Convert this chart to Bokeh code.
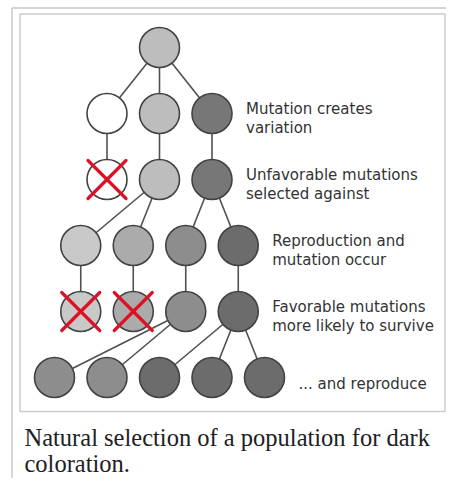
from bokeh.plotting import figure
from bokeh.models import Range1d
from bokeh.embed import file_html
from bokeh.resources import INLINE
from bokeh.core.properties import value

# ---- data ----
# each individual: generation (row) and column offset (in node spacings from the founder)
node_gen = [0, 1, 1, 1, 2, 2, 2, 3, 3, 3, 3, 4, 4, 4, 4, 5, 5, 5, 5, 5]
node_col = [0, -1, 0, 1, -1, 0, 1, -1.5, -0.5, 0.5, 1.5, -1.5, -0.5, 0.5, 1.5, -2, -1, 0, 1, 2]
# darkness level of coloration (0 = white ... 6 = darkest)
node_dark = [2, 0, 2, 5, 0, 2, 5, 1, 3, 4, 6, 1, 3, 4, 6, 4, 4, 6, 6, 6]
# individuals selected against
node_dies = [4, 11, 12]
# parent -> child links
edge_parent = [0, 0, 0, 1, 2, 3, 5, 5, 6, 6, 7, 8, 9, 10, 13, 13, 14, 14, 14]
edge_child = [1, 2, 3, 4, 5, 6, 7, 8, 9, 10, 11, 12, 13, 14, 15, 16, 17, 18, 19]
# stage captions
stage_gen = [1, 2, 3, 4, 5]
stage_line1 = ["Mutation creates", "Unfavorable mutations", "Reproduction and",
               "Favorable mutations", "... and reproduce"]
stage_line2 = ["variation", "selected against", "mutation occur",
               "more likely to survive", ""]
caption_lines = ["Natural selection of a population for dark", "coloration."]

# ---- styling / layout ----
palette = ["#ffffff", "#c9c9c9", "#bdbdbd", "#ababab", "#8d8d8d", "#777777", "#6c6c6c"]
OX, OY, DX, DY = 159.0, 47.0, 52.5, 66.0   # pixel position of the founder, node spacings
W, H = 446, 478


def ux(px):
    return (px - OX) / DX


def uy(py):
    return (py - OY) / DY


p = figure(width=W, height=H, output_backend="svg", toolbar_location=None,
           x_range=Range1d(ux(0), ux(W)), y_range=Range1d(uy(H), uy(0)),
           min_border=0)
p.axis.visible = False
p.grid.visible = False
p.outline_line_color = None
p.background_fill_color = "white"
p.border_fill_color = "white"

# frames (wiki thumbnail look)
p.line([ux(11.5), ux(11.5), ux(W + 5)], [uy(H + 5), uy(7.5), uy(7.5)],
       line_color="#c8c8c8", line_width=1.5)
p.line([ux(19.5), ux(19.5), ux(444.5), ux(444.5), ux(19.5)],
       [uy(411), uy(13.5), uy(13.5), uy(411), uy(411)],
       line_color="#cccccc", line_width=1.5)

# links
p.segment(x0=[node_col[i] for i in edge_parent], y0=[node_gen[i] for i in edge_parent],
          x1=[node_col[i] for i in edge_child], y1=[node_gen[i] for i in edge_child],
          line_color="#505050", line_width=1.6)

# individuals
p.scatter(x=node_col, y=node_gen, size=40, marker="circle",
          fill_color=[palette[d] for d in node_dark],
          line_color="#424242", line_width=1.6)

# crosses
hx, hy = 19 / DX, 19 / DY
xs = [node_col[i] for i in node_dies]
ys = [node_gen[i] for i in node_dies]
p.segment(x0=[x - hx for x in xs], y0=[y - hy for y in ys],
          x1=[x + hx for x in xs], y1=[y + hy for y in ys],
          line_color="#dd1126", line_width=3.2, line_cap="round")
p.segment(x0=[x - hx for x in xs], y0=[y + hy for y in ys],
          x1=[x + hx for x in xs], y1=[y - hy for y in ys],
          line_color="#dd1126", line_width=3.2, line_cap="round")

# stage labels, placed to the right of the rightmost individual of each row
lab_x = [max(c for c, g in zip(node_col, node_gen) if g == sg) for sg in stage_gen]
two = [i for i in range(len(stage_gen)) if stage_line2[i]]
one = [i for i in range(len(stage_gen)) if not stage_line2[i]]
common = dict(text_font=value("DejaVu Sans"), text_font_size="15px",
              text_color="#333333", text_baseline="alphabetic", text_align="left")
p.text(x=[lab_x[i] for i in two], y=[stage_gen[i] for i in two],
       text=[stage_line1[i] for i in two], x_offset=34, y_offset=-5, **common)
p.text(x=[lab_x[i] for i in two], y=[stage_gen[i] for i in two],
       text=[stage_line2[i] for i in two], x_offset=34, y_offset=14, **common)
p.text(x=[lab_x[i] for i in one], y=[stage_gen[i] for i in one],
       text=[stage_line1[i] for i in one], x_offset=34, y_offset=6, **common)

# caption
p.text(x=[ux(24), ux(24)], y=[uy(437), uy(463)], text=caption_lines,
       text_font=value("Liberation Serif"), text_font_size="24.5px",
       text_color="#202122", text_baseline="alphabetic", text_align="left")

open("out.html", "w").write(file_html(p, INLINE))
